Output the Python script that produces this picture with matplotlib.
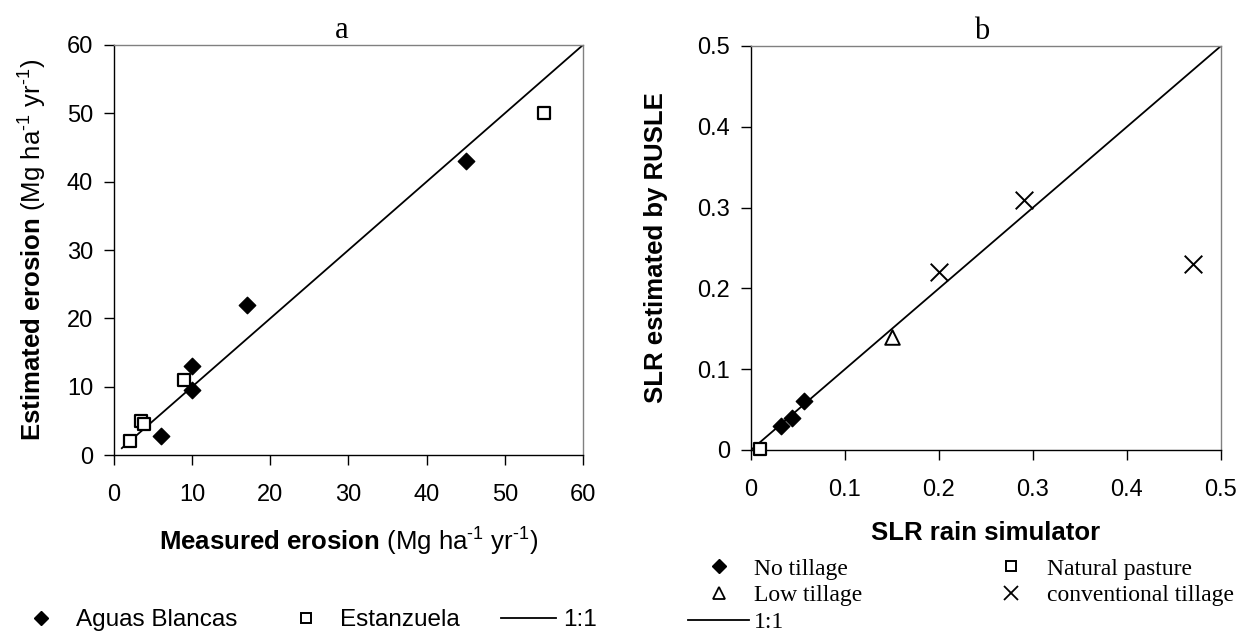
import matplotlib
matplotlib.use("Agg")
import matplotlib.pyplot as plt
from matplotlib.lines import Line2D

plt.rcParams['font.family'] = ['Liberation Sans', 'DejaVu Sans']
plt.rcParams['mathtext.fontset'] = 'custom'
plt.rcParams['mathtext.rm'] = 'Liberation Sans'
plt.rcParams['mathtext.it'] = 'Liberation Sans:italic'
plt.rcParams['mathtext.bf'] = 'Liberation Sans:bold'

# Panel a data
aguas_x = [6, 10, 10, 17, 45]
aguas_y = [2.8, 13, 9.5, 22, 43]
estan_x = [2, 3.5, 3.8, 9, 55]
estan_y = [2, 5, 4.5, 11, 50]
line_a = [1, 60]
ticks_a = [0, 10, 20, 30, 40, 50, 60]

# Panel b data
notill_x = [0.032, 0.044, 0.056]
notill_y = [0.030, 0.039, 0.061]
pasture_x = [0.010]
pasture_y = [0.001]
lowtill_x = [0.150]
lowtill_y = [0.140]
conv_x = [0.200, 0.291, 0.470]
conv_y = [0.220, 0.310, 0.230]
line_b = [0, 0.5]
ticks_b = [0, 0.1, 0.2, 0.3, 0.4, 0.5]
ticklabels_b = ['0', '0.1', '0.2', '0.3', '0.4', '0.5']

fig = plt.figure(figsize=(12.38, 6.38), dpi=100)
axa = fig.add_axes([0.0921, 0.2868, 0.3788, 0.6427])
axb = fig.add_axes([0.6066, 0.2947, 0.3796, 0.6332])

def style(ax):
    for s in ['top', 'right']:
        ax.spines[s].set_color('#808080')
    for s in ['left', 'bottom']:
        ax.spines[s].set_color('black')
    for s in ax.spines.values():
        s.set_linewidth(1.0)
    ax.tick_params(direction='out', length=7, width=1, labelsize=17, color='black')
    ax.tick_params(axis='x', pad=14)
    ax.tick_params(axis='y', pad=8)

unit = r'(Mg ha$^{\text{-1}}$ yr$^{\text{-1}}$)'

# Panel a
axa.plot(line_a, line_a, color='black', lw=1.3, zorder=2)
axa.scatter(aguas_x, aguas_y, marker='D', s=70, color='black', zorder=3)
axa.scatter(estan_x, estan_y, marker='s', s=75, facecolor='white', edgecolor='black', linewidths=1.6, zorder=3)
axa.set_xlim(0, 60)
axa.set_ylim(0, 60)
axa.set_xticks(ticks_a)
axa.set_yticks(ticks_a)
style(axa)
axa.set_xlabel(r'$\mathbf{Measured\ erosion}$ ' + unit, fontsize=18.5, labelpad=14)
axa.set_ylabel(r'$\mathbf{Estimated\ erosion}$ ' + unit, fontsize=18.5, labelpad=13)
axa.set_title('a', family='Liberation Serif', fontsize=22, pad=4.5, x=0.486)

# Panel b
axb.plot(line_b, line_b, color='black', lw=1.3, zorder=2)
axb.scatter(notill_x, notill_y, marker='D', s=70, color='black', zorder=3)
axb.scatter(pasture_x, pasture_y, marker='s', s=75, facecolor='white', edgecolor='black', linewidths=1.6, zorder=3, clip_on=False)
axb.scatter(lowtill_x, lowtill_y, marker='^', s=110, facecolor='white', edgecolor='black', linewidths=1.4, zorder=3)
axb.scatter(conv_x, conv_y, marker='x', s=160, color='black', linewidths=1.4, zorder=3)
axb.set_xlim(0, 0.5)
axb.set_ylim(0, 0.5)
axb.set_xticks(ticks_b)
axb.set_xticklabels(ticklabels_b)
axb.set_yticks(ticks_b)
axb.set_yticklabels(ticklabels_b)
style(axb)
axb.set_xlabel('SLR rain simulator', fontsize=18.5, fontweight='bold', labelpad=14)
axb.set_ylabel('SLR estimated by RUSLE', fontsize=18.5, fontweight='bold', labelpad=21)
axb.set_title('b', family='Liberation Serif', fontsize=22, pad=4.5, x=0.4915)

# Legend a
ha = [Line2D([], [], marker='D', color='black', ls='none', markersize=7),
      Line2D([], [], marker='s', markerfacecolor='white', markeredgecolor='black', ls='none', markersize=7.5, markeredgewidth=1.4),
      Line2D([], [], color='black', lw=1.3)]
fig.legend(ha, ['Aguas Blancas', 'Estanzuela', '1:1'], loc='center left', bbox_to_anchor=(0.011, 1 - 620 / 638),
           ncol=3, frameon=False, fontsize=17.5, handlelength=2.25, columnspacing=1.7, handletextpad=0.3,
           borderpad=0, borderaxespad=0)

# Legend b
hb = [Line2D([], [], marker='D', color='black', ls='none', markersize=7),
      Line2D([], [], marker='^', markerfacecolor='white', markeredgecolor='black', ls='none', markersize=8, markeredgewidth=1.3),
      Line2D([], [], color='black', lw=1.3),
      Line2D([], [], marker='s', markerfacecolor='white', markeredgecolor='black', ls='none', markersize=7.5, markeredgewidth=1.4),
      Line2D([], [], marker='x', color='black', ls='none', markersize=10, markeredgewidth=1.3)]
fig.legend(hb, ['No tillage', 'Low tillage', '1:1', 'Natural pasture', 'conventional tillage'],
           loc='upper left', bbox_to_anchor=(688 / 1238, 1 - 558 / 638), ncol=2, frameon=False,
           prop={'family': 'Liberation Serif', 'size': 17}, handlelength=2.6, columnspacing=5.0,
           handletextpad=0.2, labelspacing=0.22, borderpad=0, borderaxespad=0)

fig.savefig('out.png', dpi=100)
